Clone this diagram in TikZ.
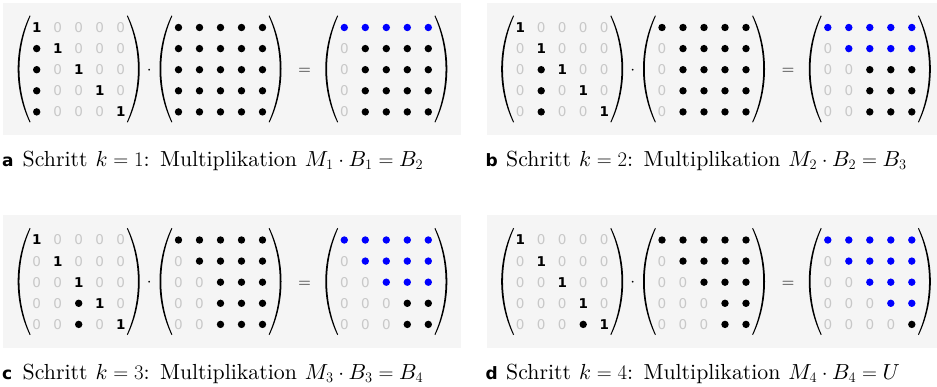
\documentclass[tikz,border=0pt]{standalone}
\usepackage{fontspec}
\setsansfont{DejaVu Sans}
\newfontfamily\capserif{lmroman10-regular.otf}
\DeclareFontShape{OML}{cmm}{m}{it}{<-> cmmi10}{}
\definecolor{panelgray}{HTML}{F5F5F5}
\definecolor{zerogray}{HTML}{C8C8C8}
\definecolor{dotblue}{HTML}{0000FF}
\newcommand{\entryfont}{\sffamily\fontsize{13.5}{14}\selectfont}
\newcommand{\capfont}{\capserif\fontsize{21.8}{24}\selectfont\spaceskip=8pt plus 1pt}
\newcommand{\enttext}{\if x\ent\else\if b\ent\else\ent\fi\fi}

% one 5x5 matrix: name, x of first column, entries (1, 0, x = dot, b = blue dot)
\newcommand{\matgrid}[3]{%
  \foreach \ent [count=\i from 0] in {#3} {
    \pgfmathtruncatemacro\cc{mod(\i,5)}
    \pgfmathtruncatemacro\rr{div(\i,5)}
    \node[e\ent] (#1-\rr\cc) at (#2+21*\cc, 27.5+21.1*\rr) {\enttext};
  }
  \pic at (#2+42-61, 69) {mparen};
  \pic[xscale=-1] at (#2+42+61, 69) {mparen};
}

% one panel: x, y, tag, M, B, result, caption
\newcommand{\panel}[7]{%
  \begin{scope}[shift={(#1,#2)}]
    \fill[panelgray] (3,3) rectangle (461,135.5);
    \matgrid{#3M}{36.7}{#4}
    \node[opsym] (#3dot) at (149.3,74.4) {$\cdot$};
    \matgrid{#3B}{178.5}{#5}
    \node[opsym] (#3eq) at (304.5,74.6) {$=$};
    \matgrid{#3R}{344.3}{#6}
    \node[tagtext] (#3tag) at (1.8,166.5) {#3};
    \node[captext] (#3cap) at (22.5,166.5) {#7};
  \end{scope}}

\begin{document}
\begin{tikzpicture}[x=1pt,y=-1pt,
    e1/.style={font=\entryfont\bfseries,inner sep=0pt},
    e0/.style={font=\entryfont,text=zerogray,inner sep=0pt},
    ex/.style={circle,fill=black,inner sep=0pt,minimum size=7.4pt},
    eb/.style={ex,fill=dotblue},
    opsym/.style={anchor=base,inner sep=0pt,font=\fontsize{19}{20}\selectfont},
    tagtext/.style={anchor=base west,inner sep=0pt,font=\sffamily\bfseries\fontsize{17}{20}\selectfont},
    captext/.style={anchor=base west,inner sep=0pt,font=\capfont},
    mparen/.pic={
      \fill (12,-53.5) .. controls (-4,-20) and (-4,20) .. (12,53.5)
        -- (12.8,53) .. controls (-1.9,20) and (-1.9,-20) .. (12.8,-53) -- cycle;
    }]
  \useasboundingbox (0,0) rectangle (937,387);
  \clip (0,0) rectangle (937,387);

  \panel{0}{0}{a}
    {1,0,0,0,0, x,1,0,0,0, x,0,1,0,0, x,0,0,1,0, x,0,0,0,1}
    {x,x,x,x,x, x,x,x,x,x, x,x,x,x,x, x,x,x,x,x, x,x,x,x,x}
    {b,b,b,b,b, 0,x,x,x,x, 0,x,x,x,x, 0,x,x,x,x, 0,x,x,x,x}
    {Schritt $k=1$: Multiplikation $M_1\cdot B_1=B_2$}

  \panel{483.5}{0}{b}
    {1,0,0,0,0, 0,1,0,0,0, 0,x,1,0,0, 0,x,0,1,0, 0,x,0,0,1}
    {x,x,x,x,x, 0,x,x,x,x, 0,x,x,x,x, 0,x,x,x,x, 0,x,x,x,x}
    {b,b,b,b,b, 0,b,b,b,b, 0,0,x,x,x, 0,0,x,x,x, 0,0,x,x,x}
    {Schritt $k=2$: Multiplikation $M_2\cdot B_2=B_3$}

  \panel{0}{212.5}{c}
    {1,0,0,0,0, 0,1,0,0,0, 0,0,1,0,0, 0,0,x,1,0, 0,0,x,0,1}
    {x,x,x,x,x, 0,x,x,x,x, 0,0,x,x,x, 0,0,x,x,x, 0,0,x,x,x}
    {b,b,b,b,b, 0,b,b,b,b, 0,0,b,b,b, 0,0,0,x,x, 0,0,0,x,x}
    {Schritt $k=3$: Multiplikation $M_3\cdot B_3=B_4$}

  \panel{483.5}{212.5}{d}
    {1,0,0,0,0, 0,1,0,0,0, 0,0,1,0,0, 0,0,0,1,0, 0,0,0,x,1}
    {x,x,x,x,x, 0,x,x,x,x, 0,0,x,x,x, 0,0,0,x,x, 0,0,0,x,x}
    {b,b,b,b,b, 0,b,b,b,b, 0,0,b,b,b, 0,0,0,b,b, 0,0,0,0,x}
    {Schritt $k=4$: Multiplikation $M_4\cdot B_4=U$}
\end{tikzpicture}
\end{document}
